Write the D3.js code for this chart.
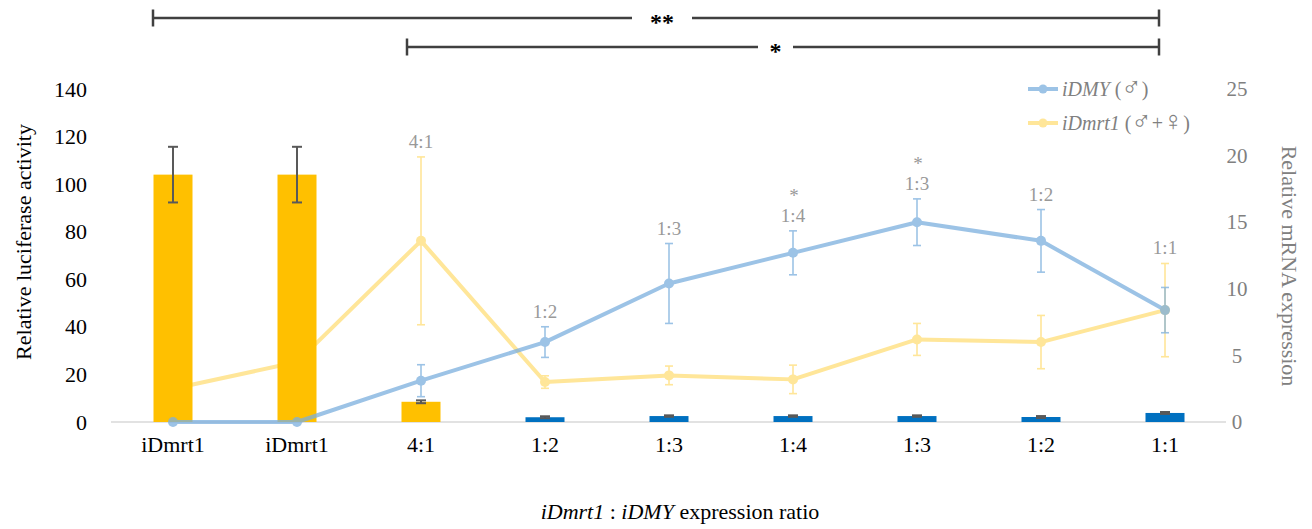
<!DOCTYPE html>
<html>
<head>
<script src="https://d3js.org/d3.v7.min.js"></script>
<style>
  body { margin: 0; background: #fff; }
  svg text { font-family: "Liberation Serif", "DejaVu Serif", serif !important; }
</style>
</head>
<body>
<svg id="chart" width="1312" height="529"></svg>
<script>
// categories along the x axis (display labels)
var categories = ["iDmrt1", "iDmrt1", "4:1", "1:2", "1:3", "1:4", "1:3", "1:2", "1:1"];
// which construct the bar belongs to (sets the colour)
var barGroup = ["ctrl", "ctrl", "ctrl", "mix", "mix", "mix", "mix", "mix", "mix"];
// relative luciferase activity (bars, left axis)
var luciferase = [104, 104, 8.5, 2.0, 2.5, 2.5, 2.5, 2.1, 3.8];
var luciferaseErr = [11.7, 11.7, 0.6, 0.4, 0.3, 0.3, 0.3, 0.4, 0.4];
// relative mRNA expression (lines, right axis)
var iDMY = [0, 0, 3.1, 6.0, 10.4, 12.7, 15.0, 13.6, 8.4];
var iDMYErr = [null, null, 1.2, 1.15, 3.0, 1.65, 1.75, 2.35, 1.7];
var iDmrt1 = [2.5, 4.5, 13.6, 3.0, 3.5, 3.2, 6.2, 6.0, 8.4];
var iDmrt1Err = [null, null, 6.3, 0.47, 0.7, 1.07, 1.2, 2.0, 3.5];
// ratio labels above the points and significance stars
var pointLabels = ["", "", "4:1", "1:2", "1:3", "1:4", "1:3", "1:2", "1:1"];
var pointStars = ["", "", "", "", "", "*", "*", "", ""];
var leftTicks = [0, 20, 40, 60, 80, 100, 120, 140];
var rightTicks = [0, 5, 10, 15, 20, 25];

var FONT = "Liberation Serif, DejaVu Serif, serif";
var svg = d3.select("#chart").attr("font-family", FONT);

var x = d3.scaleBand().domain(d3.range(categories.length)).range([111, 1227]);
var cx = function(i) { return x(i) + x.bandwidth() / 2; };
var yL = d3.scaleLinear().domain([0, 140]).range([422, 89]);
var yR = d3.scaleLinear().domain([0, 25]).range([422, 89]);
var barColor = d3.scaleOrdinal().domain(["ctrl", "mix"]).range(["#FFC000", "#0070C0"]);

var blue = "#7CAFDE", yellow = "#FFDE77";

// left axis labels
var gl = svg.append("g").attr("transform", "translate(111,0)")
  .call(d3.axisLeft(yL).tickValues(leftTicks).tickSize(0).tickPadding(24));
gl.attr("font-family", FONT);
gl.select(".domain").remove();
gl.selectAll("text").attr("font-size", 22).attr("fill", "#000");

// right axis labels
var gr = svg.append("g").attr("transform", "translate(1226,0)")
  .call(d3.axisRight(yR).tickValues(rightTicks).tickSize(0));
gr.attr("font-family", FONT);
gr.select(".domain").remove();
gr.selectAll("text").attr("font-size", 21)
  .attr("fill", "#808080").attr("text-anchor", "middle").attr("x", 11);

// x axis line + labels
svg.append("line").attr("x1", 111).attr("x2", 1226).attr("y1", yL(0)).attr("y2", yL(0))
  .attr("stroke", "#D9D9D9").attr("stroke-width", 1.5);
svg.selectAll("text.xlab").data(categories).enter().append("text")
  .attr("class", "xlab")
  .attr("x", function(d, i) { return cx(i); })
  .attr("y", 452)
  .attr("text-anchor", "middle").attr("font-size", 22).attr("fill", "#000")
  .text(function(d) { return d; });

function errBars(g, vals, errs, y, color, width, cap) {
  vals.forEach(function(v, i) {
    var e = errs[i];
    if (e == null) return;
    var t = y(v + e), b = y(v - e), c = cx(i);
    g.append("line").attr("x1", c).attr("x2", c).attr("y1", t).attr("y2", b)
      .attr("stroke", color).attr("stroke-width", width);
    [t, b].forEach(function(yy) {
      g.append("line").attr("x1", c - cap).attr("x2", c + cap).attr("y1", yy).attr("y2", yy)
        .attr("stroke", color).attr("stroke-width", width);
    });
  });
}

var line = d3.line().x(function(d, i) { return cx(i); }).y(function(d) { return yR(d); });
function series(vals, errs, color) {
  var g = svg.append("g").attr("opacity", 0.75);
  errBars(g, vals, errs, yR, color, 1.6, 4);
  g.append("path").datum(vals).attr("d", line)
    .attr("fill", "none").attr("stroke", color).attr("stroke-width", 4)
    .attr("stroke-linejoin", "round");
  g.selectAll("circle").data(vals).enter().append("circle")
    .attr("cx", function(d, i) { return cx(i); })
    .attr("cy", function(d) { return yR(d); })
    .attr("r", 5).attr("fill", color);
}

// yellow line sits behind the bars
series(iDmrt1, iDmrt1Err, yellow);

// bars
var bw = 39;
svg.selectAll("rect.bar").data(luciferase).enter().append("rect")
  .attr("class", "bar")
  .attr("x", function(d, i) { return cx(i) - bw / 2; })
  .attr("width", bw)
  .attr("y", function(d) { return yL(d); })
  .attr("height", function(d) { return yL(0) - yL(d); })
  .attr("fill", function(d, i) { return barColor(barGroup[i]); });
errBars(svg.append("g"), luciferase, luciferaseErr, yL, "#595959", 2, 5);

series(iDMY, iDMYErr, blue);

// ratio labels and stars above points
pointLabels.forEach(function(lab, i) {
  if (!lab) return;
  var top = Math.min(
    yR(iDMY[i] + (iDMYErr[i] || 0)),
    yR(iDmrt1[i] + (iDmrt1Err[i] || 0)));
  var base = top - 9;
  svg.append("text").attr("x", cx(i)).attr("y", base)
    .attr("text-anchor", "middle").attr("font-size", 19).attr("fill", "#999999").text(lab);
  if (pointStars[i]) {
    svg.append("text").attr("x", cx(i) + 1).attr("y", base - 20)
      .attr("text-anchor", "middle").attr("font-size", 19).attr("fill", "#999999").text(pointStars[i]);
  }
});

// significance brackets
function bracket(x1, x2, y, gap1, gap2, label) {
  var g = svg.append("g").attr("stroke", "#404040").attr("stroke-width", 2.5);
  g.append("line").attr("x1", x1).attr("x2", gap1).attr("y1", y).attr("y2", y);
  g.append("line").attr("x1", gap2).attr("x2", x2).attr("y1", y).attr("y2", y);
  g.append("line").attr("x1", x1).attr("x2", x1).attr("y1", y - 8.5).attr("y2", y + 8.5);
  g.append("line").attr("x1", x2).attr("x2", x2).attr("y1", y - 8.5).attr("y2", y + 8.5);
  svg.append("text").attr("x", (gap1 + gap2) / 2).attr("y", y + 12)
    .attr("text-anchor", "middle").attr("font-size", 24).attr("font-weight", "bold")
    .attr("fill", "#000").text(label);
}
bracket(cx(0) - 20, cx(8) - 6, 18, 632, 692, "**");
bracket(cx(2) - 14, cx(8) - 6, 47, 758, 793, "*");

// legend
var legend = [
  { name: "iDMY", sym: ["\u2642"], color: blue, y: 89 },
  { name: "iDmrt1", sym: ["\u2642", "+", "\u2640"], color: yellow, y: 123 }
];
legend.forEach(function(l) {
  var g = svg.append("g").attr("opacity", 0.75);
  g.append("line").attr("x1", 1028).attr("x2", 1058).attr("y1", l.y).attr("y2", l.y)
    .attr("stroke", l.color).attr("stroke-width", 4);
  g.append("circle").attr("cx", 1043).attr("cy", l.y).attr("r", 4.5).attr("fill", l.color);
  var t = svg.append("text").attr("x", 1062).attr("y", l.y + 7)
    .attr("font-size", 20).attr("fill", "#808080");
  t.append("tspan").attr("font-style", "italic").text(l.name);
  t.append("tspan").text(" (");
  l.sym.forEach(function(s) {
    t.append("tspan").attr("font-size", s === "+" ? 20 : 27).text(s);
  });
  t.append("tspan").text(")");
});

// axis titles
svg.append("text").attr("transform", "translate(31,242) rotate(-90)")
  .attr("text-anchor", "middle").attr("font-size", 22).attr("fill", "#000")
  .text("Relative luciferase activity");
svg.append("text").attr("transform", "translate(1282,266) rotate(90)")
  .attr("text-anchor", "middle").attr("font-size", 22).attr("fill", "#808080")
  .text("Relative mRNA expression");
var xt = svg.append("text").attr("x", 680).attr("y", 519)
  .attr("text-anchor", "middle").attr("font-size", 22).attr("fill", "#000");
xt.append("tspan").attr("font-style", "italic").text("iDmrt1");
xt.append("tspan").text(" : ");
xt.append("tspan").attr("font-style", "italic").text("iDMY");
xt.append("tspan").text(" expression ratio");
</script>
</body>
</html>
